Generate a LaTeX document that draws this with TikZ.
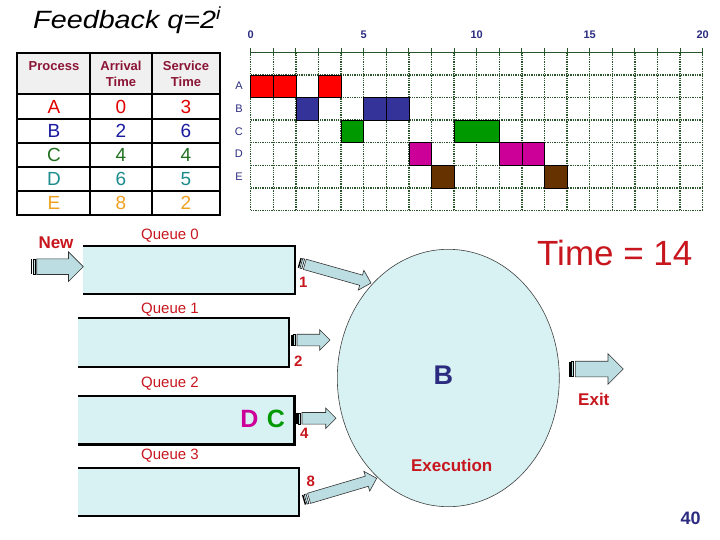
\documentclass[tikz,border=0pt]{standalone}
\usepackage{fontspec}
\setmainfont{Liberation Sans}
\usetikzlibrary{shapes.geometric,shapes.arrows,calc}

\definecolor{qfill}{HTML}{D8F2F3}
\definecolor{afill}{HTML}{BCDDE2}
\definecolor{qred}{HTML}{C8161E}
\definecolor{hdred}{HTML}{8B1535}
\definecolor{gline}{HTML}{2A552A}
\definecolor{bnavy}{HTML}{2B2B80}
\definecolor{barA}{HTML}{FF0000}
\definecolor{barB}{HTML}{333399}
\definecolor{barC}{HTML}{009900}
\definecolor{barD}{HTML}{CC0099}
\definecolor{barE}{HTML}{663300}
\definecolor{txtA}{HTML}{E00000}
\definecolor{txtB}{HTML}{1A1AA0}
\definecolor{txtC}{HTML}{207020}
\definecolor{txtD}{HTML}{1E8C8C}
\definecolor{txtE}{HTML}{F0A020}

\tikzset{
  fatarr/.style={single arrow, draw=black!80, fill=afill, line width=0.6pt,
    inner xsep=0pt, outer sep=0pt, minimum width=0pt},
  qbox/.style={fill=qfill, inner sep=0pt},
  qline/.style={line width=2.5pt, line join=miter},
  qlbl/.style={text=qred, font=\fontsize{15}{18}\selectfont},
  numlbl/.style={text=qred, font=\bfseries\fontsize{15}{18}\selectfont},
  bigred/.style={text=qred, font=\bfseries\fontsize{17}{20}\selectfont},
  hdr/.style={text=hdred, font=\bfseries\fontsize{13}{16}\selectfont, align=center},
  cell/.style={font=\fontsize{19}{22}\selectfont},
  tline/.style={line width=1.8pt},
  gdot/.style={gline, densely dotted, line width=1.3pt},
  bar/.style={draw=black, line width=0.6pt},
}

% fat arrow: name, from, to, half body, head extend
\newcommand{\fatarrow}[5]{%
  \path let \p1=(#2), \p2=(#3), \n1={atan2(\y2-\y1,\x2-\x1)},
      \n2={veclen(\x2-\x1,\y2-\y1)-6pt} in
    node[fatarr, inner ysep=#4, single arrow head extend=#5,
      minimum height=\n2, rotate=\n1, anchor=tail] (#1) at ($(\p1)!6pt!(\p2)$) {};
  \draw[line width=1.4pt] let \p1=(#2), \p2=(#3) in
    ($(\p1)!0.8pt!(\p2)!#4!90:(\p2)$) -- ($(\p1)!0.8pt!(\p2)!#4!-90:(\p2)$);
  \draw[line width=0.5pt, fill=afill] let \p1=(#2), \p2=(#3) in
    ($(\p1)!2.4pt!(\p2)!#4!90:(\p2)$) -- ($(\p1)!2.4pt!(\p2)!#4!-90:(\p2)$)
    -- ($(\p1)!4.4pt!(\p2)!#4!-90:(\p2)$) -- ($(\p1)!4.4pt!(\p2)!#4!90:(\p2)$) -- cycle;
}

\begin{document}
\begin{tikzpicture}[x=1pt, y=-1pt]
\useasboundingbox (0,0) rectangle (720,540);

% title
\node[anchor=west, inner sep=0pt, xscale=1.15, transform shape,
  font=\itshape\fontsize{25}{29}\selectfont] (title) at (33,20)
  {Feedback q=2\textsuperscript{i}};

% table
\fill[black!6] (17.3,53.3) rectangle (220,94.3);
\draw[tline] (17.3,53.3) rectangle (220,215);
\foreach \y in {94.3,118.7,142.7,166.7,190.7}
  \draw[tline] (17.3,\y) -- (220,\y);
\foreach \x in {90,152}
  \draw[tline] (\x,53.3) -- (\x,215);
\node[hdr] (hproc) at (54,66) {Process};
\node[hdr] (harr) at (121,74) {Arrival\\Time};
\node[hdr] (hserv) at (186,74) {Service\\Time};
\foreach \p/\a/\s/\y in {A/0/3/106.5, B/2/6/130.7, C/4/4/154.7, D/6/5/178.7, E/8/2/202.8} {
  \node[cell, text=txt\p] (p\p) at (54,\y) {\p};
  \node[cell, text=txt\p] (a\p) at (121,\y) {\a};
  \node[cell, text=txt\p] (s\p) at (186,\y) {\s};
}

% gantt chart
\begin{scope}[shift={(250.7,52.3)}, x=22.6pt, y=-22.6pt]
  \foreach \i in {0,...,20}
    \draw[gdot] (\i,0) -- (\i,7);
  \foreach \j in {1,...,7}
    \draw[gdot] (0,\j) -- (20,\j);
  \draw[gline, line width=1.4pt] (0,0) -- (20,0);
  \foreach \i in {0,...,20}
    \draw[gline, line width=1pt] (\i,-0.17) -- (\i,0.17);
  \foreach \i in {0,5,...,20}
    \node[text=bnavy, font=\bfseries\fontsize{11}{13}\selectfont] (t\i) at (\i,-0.77) {\i};
  \foreach \r/\k in {A/0,B/1,C/2,D/3,E/4}
    \node[text=bnavy, font=\fontsize{11}{13}\selectfont] (r\r) at (-0.52,1.5+\k) {\r};
  \foreach \c/\a/\b/\k in {A/0/1/0, A/1/2/0, A/3/4/0, B/2/3/1, B/5/6/1, B/6/7/1,
      C/4/5/2, C/9/11/2, D/7/8/3, D/11/12/3, D/12/13/3, E/8/9/4, E/13/14/4}
    \draw[bar, fill=bar\c] (\a,1+\k) rectangle (\b,2+\k);
\end{scope}

% queues
\node[qbox, minimum width=211.4pt, minimum height=48pt] (q0) at (189,270) {};
\node[qbox, minimum width=210.4pt, minimum height=48.4pt] (q1) at (183.5,342.5) {};
\node[qbox, minimum width=215.7pt, minimum height=48.3pt] (q2) at (186.2,420.2) {};
\node[qbox, minimum width=220.4pt, minimum height=48pt] (q3) at (188.5,492) {};
\foreach \q in {q0,q1,q2,q3}
  \draw[qline] (\q.north west) -- (\q.north east) -- (\q.south east) -- (\q.south west);
\node[qlbl] (l0) at (170,236) {Queue 0};
\node[qlbl] (l1) at (170,309.3) {Queue 1};
\node[qlbl] (l2) at (170,384) {Queue 2};
\node[qlbl] (l3) at (170,456) {Queue 3};
\node[bigred] (new) at (56,242.7) {New};
\node[text=barD, font=\bfseries\fontsize{25}{28}\selectfont] (wD) at (249.3,419) {D};
\node[text=barC, font=\bfseries\fontsize{25}{28}\selectfont] (wC) at (276,419) {C};

% execution
\node[ellipse, draw=black!75, line width=0.6pt, fill=qfill, inner sep=0pt,
  minimum width=222pt, minimum height=257.4pt] (exec) at (448.3,378) {};
\node[text=bnavy, font=\bfseries\fontsize{27}{30}\selectfont] (run) at (443.3,375) {B};
\node[bigred] (exlbl) at (451.7,465) {Execution};

% arrows
\coordinate (n0) at (30.7,266.7);   \coordinate (n1) at (83.3,266.7);
\coordinate (a0) at (299,262.7);    \coordinate (b0) at (371,283);
\coordinate (a1) at (291,340);      \coordinate (b1) at (330,340);
\coordinate (a2) at (296,418.3);    \coordinate (b2) at (336,418.3);
\coordinate (a3) at (303.3,500);    \coordinate (b3) at (376.7,478.3);
\coordinate (e0) at (569.3,369);    \coordinate (e1) at (623.3,369);
\fatarrow{newarr}{n0}{n1}{7.5pt}{7pt}
\fatarrow{arr1}{a0}{b0}{5pt}{5pt}
\fatarrow{arr2}{a1}{b1}{5.5pt}{4.5pt}
\fatarrow{arr4}{a2}{b2}{5.5pt}{4.5pt}
\fatarrow{arr8}{a3}{b3}{5pt}{5pt}
\fatarrow{exitarr}{e0}{e1}{7.5pt}{7.5pt}
\node[numlbl] (k1) at (303.3,282.3) {1};
\node[numlbl] (k2) at (298.3,361.7) {2};
\node[numlbl] (k4) at (304.3,433.3) {4};
\node[numlbl] (k8) at (310.7,481) {8};
\node[bigred] (exit) at (593.8,399) {Exit};

\node[text=qred, font=\fontsize{35}{40}\selectfont] (time) at (614.8,253.3) {Time = 14};
\node[text=bnavy, font=\bfseries\fontsize{18}{20}\selectfont] (page) at (690.7,518.3) {40};
\end{tikzpicture}
\end{document}
